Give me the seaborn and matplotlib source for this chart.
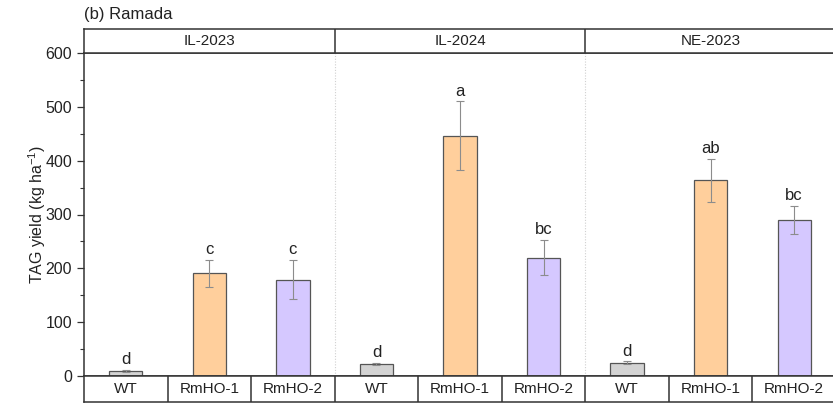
import numpy as np
import pandas as pd
import matplotlib.pyplot as plt
import seaborn as sns

# Data
sites = ["IL-2023", "IL-2024", "NE-2023"]
genotypes = ["WT", "RmHO-1", "RmHO-2"]
yield_mean = [9, 191, 179,
              22, 446, 220,
              25, 364, 290]
yield_err = [2, 25, 36,
             2, 64, 33,
             2, 40, 26]
letters = ["d", "c", "c",
           "d", "a", "bc",
           "d", "ab", "bc"]
colors = {"WT": "#D3D3D3", "RmHO-1": "#FFCF9C", "RmHO-2": "#D5C8FF"}

df = pd.DataFrame({
    "site": np.repeat(sites, len(genotypes)),
    "genotype": genotypes * len(sites),
    "yield": yield_mean,
    "err": yield_err,
    "letter": letters,
})
df["key"] = df["site"] + " " + df["genotype"]

sns.set_style("ticks")
plt.rcParams["font.family"] = ["Liberation Sans", "DejaVu Sans"]
plt.rcParams["mathtext.fontset"] = "custom"
plt.rcParams["mathtext.rm"] = "Liberation Sans"
plt.rcParams["mathtext.it"] = "Liberation Sans:italic"

fig = plt.figure(figsize=(8.33, 4.03), dpi=100)
W, H = 833, 403
left = 84 / W
right = 836 / W
main_bot = (H - 376) / H
main_top = (H - 53) / H
head_top = (H - 29) / H
lab_bot = (H - 402) / H
txt = "#222222"

ax = fig.add_axes([left, main_bot, right - left, main_top - main_bot])
sns.barplot(data=df, x="key", y="yield", hue="genotype", order=df["key"],
            palette=colors, dodge=False, width=0.4, saturation=1,
            edgecolor="#555555", linewidth=0.9, legend=False, ax=ax)
xs = np.arange(len(df))
ax.errorbar(xs, df["yield"], yerr=df["err"], fmt="none", ecolor="#8c8c8c",
            elinewidth=0.8, capsize=3, capthick=0.8)
for x, (y, e, t) in enumerate(zip(df["yield"], df["err"], df["letter"])):
    ax.annotate(t, (x, y + e), xytext=(0, 2), textcoords="offset points",
                ha="center", va="bottom", fontsize=12, color=txt)

for xb in [2.5, 5.5]:
    ax.axvline(xb, color="#d0d0d0", lw=0.8, ls=(0, (1, 1.5)), zorder=0)

ax.set_xlim(-0.5, len(df) - 0.5)
ax.set_ylim(0, 600)
ax.set_yticks(range(0, 601, 100))
ax.set_yticks(range(50, 600, 100), minor=True)
ax.set_xticks([])
ax.set_xlabel("")
ax.set_ylabel("TAG yield (kg ha$^{\\mathregular{-1}}$)", fontsize=11.5,
              color=txt)
ax.yaxis.set_label_coords(-0.048, 0.5)
ax.tick_params(axis="y", which="major", length=5, width=0.9, labelsize=11.5,
               color="#333333", labelcolor=txt)
ax.tick_params(axis="y", which="minor", length=3, width=0.8, color="#333333")
for s in ["left", "bottom", "top", "right"]:
    ax.spines[s].set_color("#333333")
    ax.spines[s].set_linewidth(1.1)

# Header strip with site names
hax = fig.add_axes([left, main_top, right - left, head_top - main_top])
hax.set_xlim(-0.5, len(df) - 0.5)
hax.set_ylim(0, 1)
hax.set_xticks([])
hax.set_yticks([])
for i, s in enumerate(sites):
    hax.text(i * 3 + 1, 0.5, s, ha="center", va="center", fontsize=11,
             color=txt)
for xb in [2.5, 5.5]:
    hax.axvline(xb, color="#333333", lw=1.1)
for s in hax.spines.values():
    s.set_color("#333333")
    s.set_linewidth(1.1)

# Genotype label strip
lax = fig.add_axes([left, lab_bot, right - left, main_bot - lab_bot])
lax.set_xlim(-0.5, len(df) - 0.5)
lax.set_ylim(0, 1)
lax.set_xticks([])
lax.set_yticks([])
for x, g in enumerate(df["genotype"]):
    lax.text(x, 0.5, g, ha="center", va="center", fontsize=11, color=txt)
for xb in np.arange(0.5, len(df) - 0.5, 1):
    lax.axvline(xb, color="#333333", lw=1.1)
for s in lax.spines.values():
    s.set_color("#333333")
    s.set_linewidth(1.1)

fig.text(left, (H - 15) / H, "(b) Ramada", ha="left", va="center",
         fontsize=12, color=txt)

fig.savefig("out.png", dpi=100)
